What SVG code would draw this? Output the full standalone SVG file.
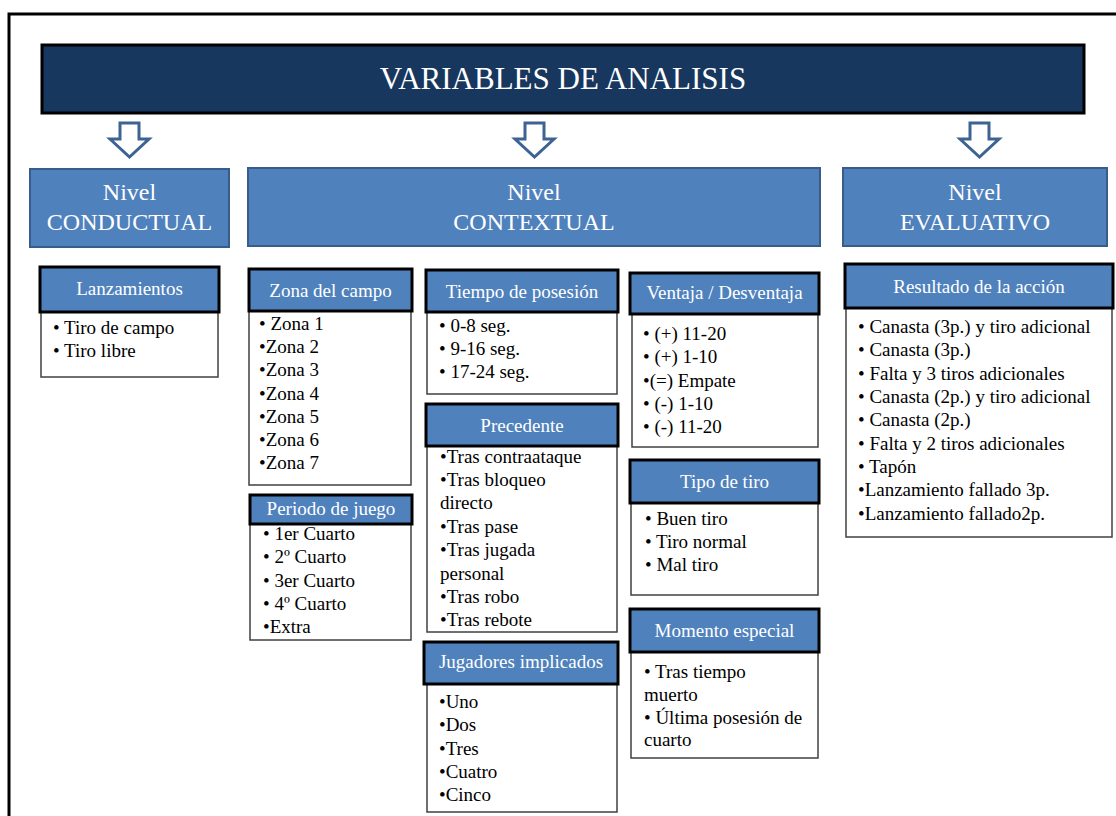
<svg xmlns="http://www.w3.org/2000/svg" width="1116" height="816" viewBox="0 0 1116 816">
<style>
text{font-family:"Liberation Serif","Times New Roman",serif}
.title{font-size:31px;fill:#fff;text-anchor:middle}
.lvl{fill:#4F81BD;stroke:#385D8A;stroke-width:2}
.lvlt{font-size:24px;fill:#fff;text-anchor:middle}
.hd{fill:#4F81BD;stroke:#000;stroke-width:3}
.hdt{font-size:19px;fill:#fff;text-anchor:middle}
.bd{fill:#fff;stroke:#404040;stroke-width:1.5}
.it{font-size:19px;fill:#000}
.arr{fill:#fff;stroke:#3C6391;stroke-width:3;stroke-linejoin:miter}
</style>
<rect x="0" y="0" width="1116" height="816" fill="#fff"/>
<rect x="9" y="14" width="1130" height="830" fill="none" stroke="#000" stroke-width="3"/>

<g id="title">
<rect x="42" y="45" width="1042" height="68" fill="#17375E" stroke="#000" stroke-width="3"/>
<text class="title" x="563" y="89">VARIABLES DE ANALISIS</text>
</g>

<g id="connectors">
<path class="arr" d="M120,123 H139 V139 H149 L129.5,157 L110,139 H120 Z"/>
<path class="arr" d="M525,123 H544 V139 H554 L534.5,157 L515,139 H525 Z"/>
<path class="arr" d="M970,123 H989 V139 H999 L979.5,157 L960,139 H970 Z"/>
</g>

<g id="nivel-conductual">
<rect class="lvl" x="30" y="169" width="199" height="78"/>
<text class="lvlt" x="129.5" y="200">Nivel</text>
<text class="lvlt" x="129.5" y="230">CONDUCTUAL</text>
</g>
<g id="nivel-contextual">
<rect class="lvl" x="248" y="168" width="572" height="78"/>
<text class="lvlt" x="534" y="200">Nivel</text>
<text class="lvlt" x="534" y="230">CONTEXTUAL</text>
</g>
<g id="nivel-evaluativo">
<rect class="lvl" x="843" y="168" width="264" height="78"/>
<text class="lvlt" x="975" y="200">Nivel</text>
<text class="lvlt" x="975" y="230">EVALUATIVO</text>
</g>

<g id="lanzamientos">
<rect class="bd" x="41" y="312" width="177" height="65"/>
<rect class="hd" x="40" y="267" width="179" height="45"/>
<text class="hdt" x="129.5" y="295">Lanzamientos</text>
<text class="it" x="53" y="334">• Tiro de campo</text>
<text class="it" x="53" y="357">• Tiro libre</text>
</g>

<g id="zona-campo">
<rect class="bd" x="249" y="311" width="162" height="174"/>
<rect class="hd" x="249" y="269" width="163" height="42"/>
<text class="hdt" x="330.5" y="297">Zona del campo</text>
<text class="it" x="259" y="330">• Zona 1</text>
<text class="it" x="259" y="353">•Zona 2</text>
<text class="it" x="259" y="376">•Zona 3</text>
<text class="it" x="259" y="400">•Zona 4</text>
<text class="it" x="259" y="423">•Zona 5</text>
<text class="it" x="259" y="446">•Zona 6</text>
<text class="it" x="259" y="469">•Zona 7</text>
</g>

<g id="periodo-juego">
<rect class="bd" x="250" y="524" width="161" height="116"/>
<rect class="hd" x="250" y="495" width="162" height="29"/>
<text class="hdt" x="331" y="515">Periodo de juego</text>
<text class="it" x="263" y="540">• 1er Cuarto</text>
<text class="it" x="263" y="563">• 2º Cuarto</text>
<text class="it" x="263" y="587">• 3er Cuarto</text>
<text class="it" x="263" y="610">• 4º Cuarto</text>
<text class="it" x="263" y="633">•Extra</text>
</g>

<g id="tiempo-posesion">
<rect class="bd" x="427" y="312" width="190" height="82"/>
<rect class="hd" x="426" y="270" width="192" height="42"/>
<text class="hdt" x="522" y="298">Tiempo de posesión</text>
<text class="it" x="439" y="332">• 0-8 seg.</text>
<text class="it" x="439" y="355">• 9-16 seg.</text>
<text class="it" x="439" y="378">• 17-24 seg.</text>
</g>

<g id="precedente">
<rect class="bd" x="427" y="446" width="190" height="186"/>
<rect class="hd" x="426" y="404" width="192" height="42"/>
<text class="hdt" x="522" y="432">Precedente</text>
<text class="it" x="440" y="463">•Tras contraataque</text>
<text class="it" x="440" y="486">•Tras bloqueo</text>
<text class="it" x="440" y="509">directo</text>
<text class="it" x="440" y="533">•Tras pase</text>
<text class="it" x="440" y="556">•Tras jugada</text>
<text class="it" x="440" y="580">personal</text>
<text class="it" x="440" y="603">•Tras robo</text>
<text class="it" x="440" y="626">•Tras rebote</text>
</g>

<g id="jugadores-implicados">
<rect class="bd" x="427" y="684" width="190" height="128"/>
<rect class="hd" x="424" y="642" width="194" height="42"/>
<text class="hdt" x="521" y="668">Jugadores implicados</text>
<text class="it" x="439" y="708">•Uno</text>
<text class="it" x="439" y="731">•Dos</text>
<text class="it" x="439" y="755">•Tres</text>
<text class="it" x="439" y="778">•Cuatro</text>
<text class="it" x="439" y="801">•Cinco</text>
</g>

<g id="ventaja-desventaja">
<rect class="bd" x="632" y="314" width="186" height="133"/>
<rect class="hd" x="630" y="273" width="189" height="41"/>
<text class="hdt" x="724.5" y="299">Ventaja / Desventaja</text>
<text class="it" x="643" y="340">• (+) 11-20</text>
<text class="it" x="643" y="363">• (+) 1-10</text>
<text class="it" x="643" y="387">•(=) Empate</text>
<text class="it" x="643" y="410">• (-) 1-10</text>
<text class="it" x="643" y="433">• (-) 11-20</text>
</g>

<g id="tipo-tiro">
<rect class="bd" x="631" y="503" width="187" height="92"/>
<rect class="hd" x="630" y="460" width="189" height="43"/>
<text class="hdt" x="724.5" y="488">Tipo de tiro</text>
<text class="it" x="645" y="525">• Buen tiro</text>
<text class="it" x="645" y="548">• Tiro normal</text>
<text class="it" x="645" y="571">• Mal tiro</text>
</g>

<g id="momento-especial">
<rect class="bd" x="631" y="652" width="187" height="106"/>
<rect class="hd" x="630" y="609" width="189" height="43"/>
<text class="hdt" x="724.5" y="637">Momento especial</text>
<text class="it" x="644" y="678">• Tras tiempo</text>
<text class="it" x="644" y="701">muerto</text>
<text class="it" x="644" y="724">• Última posesión de</text>
<text class="it" x="644" y="746">cuarto</text>
</g>

<g id="resultado-accion">
<rect class="bd" x="846" y="308" width="266" height="229"/>
<rect class="hd" x="845" y="264" width="268" height="44"/>
<text class="hdt" x="979" y="293">Resultado de la acción</text>
<text class="it" x="858" y="333">• Canasta (3p.) y tiro adicional</text>
<text class="it" x="858" y="356">• Canasta (3p.)</text>
<text class="it" x="858" y="380">• Falta y 3 tiros adicionales</text>
<text class="it" x="858" y="403">• Canasta (2p.) y tiro adicional</text>
<text class="it" x="858" y="426">• Canasta (2p.)</text>
<text class="it" x="858" y="450">• Falta y 2 tiros adicionales</text>
<text class="it" x="858" y="473">• Tapón</text>
<text class="it" x="858" y="496">•Lanzamiento fallado 3p.</text>
<text class="it" x="858" y="520">•Lanzamiento fallado2p.</text>
</g>
</svg>
